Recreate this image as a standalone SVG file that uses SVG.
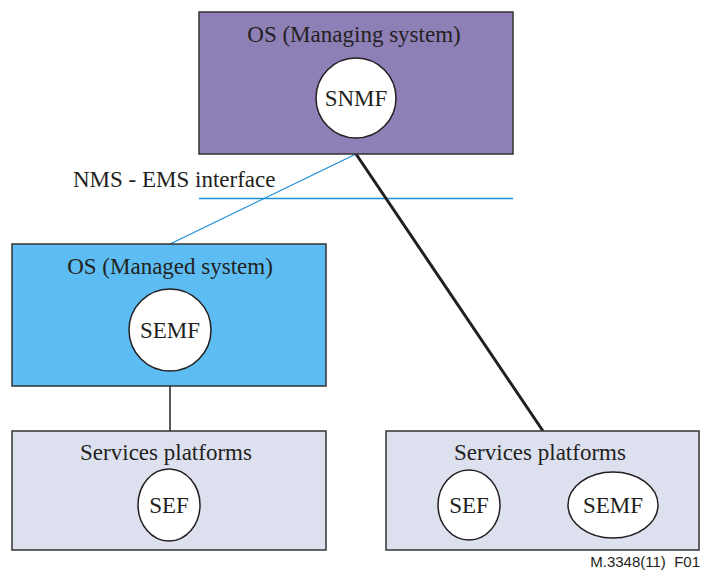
<svg xmlns="http://www.w3.org/2000/svg" width="702" height="571" viewBox="0 0 702 571">
<style>
.box{stroke:#333;stroke-width:1.5}
.t{font-size:23px;fill:#231f20;text-anchor:middle}
.c{fill:#fff;stroke:#231f20;stroke-width:1.5}
</style>
<rect width="702" height="571" fill="#fff"/>
<g id="connectors">
<line x1="199" y1="198.5" x2="513" y2="198.5" stroke="#1e8fd8" stroke-width="1.3"/>
<line x1="356" y1="154" x2="170" y2="244" stroke="#1e8fd8" stroke-width="1.3"/>
<line x1="356" y1="154" x2="543" y2="431" stroke="#231f20" stroke-width="3"/>
<line x1="170" y1="386" x2="170" y2="431" stroke="#231f20" stroke-width="1.5"/>
</g>
<g font-family="'Liberation Serif', 'Times New Roman', 'DejaVu Serif', serif">
<g id="label-interface"><text x="73" y="187" class="t" text-anchor="start" style="text-anchor:start">NMS - EMS interface</text></g>
<g id="managing">
<rect class="box" x="199" y="12" width="314" height="142" fill="#8e80b6"/>
<text class="t" x="354" y="42">OS (Managing system)</text>
<circle class="c" cx="356" cy="98" r="40"/>
<text class="t" x="356" y="106">SNMF</text>
</g>
<g id="managed">
<rect class="box" x="12" y="244" width="314" height="142" fill="#5dbdf2"/>
<text class="t" x="170" y="274">OS (Managed system)</text>
<circle class="c" cx="170" cy="330" r="41"/>
<text class="t" x="170" y="338">SEMF</text>
</g>
<g id="platform-left">
<rect class="box" x="12" y="431" width="314" height="119" fill="#dde1ef"/>
<text class="t" x="166" y="460">Services platforms</text>
<ellipse class="c" cx="169" cy="505" rx="31" ry="36"/>
<text class="t" x="169" y="513">SEF</text>
</g>
<g id="platform-right">
<rect class="box" x="386" y="431" width="313" height="119" fill="#dde1ef"/>
<text class="t" x="540" y="460">Services platforms</text>
<ellipse class="c" cx="469" cy="505" rx="31" ry="35"/>
<text class="t" x="469" y="513">SEF</text>
<ellipse class="c" cx="613" cy="505" rx="45" ry="33"/>
<text class="t" x="613" y="513">SEMF</text>
</g>
</g>
<text x="700" y="567" font-family="'Liberation Sans', Arial, sans-serif" font-size="15" fill="#231f20" text-anchor="end" xml:space="preserve">M.3348(11)  F01</text>
</svg>
